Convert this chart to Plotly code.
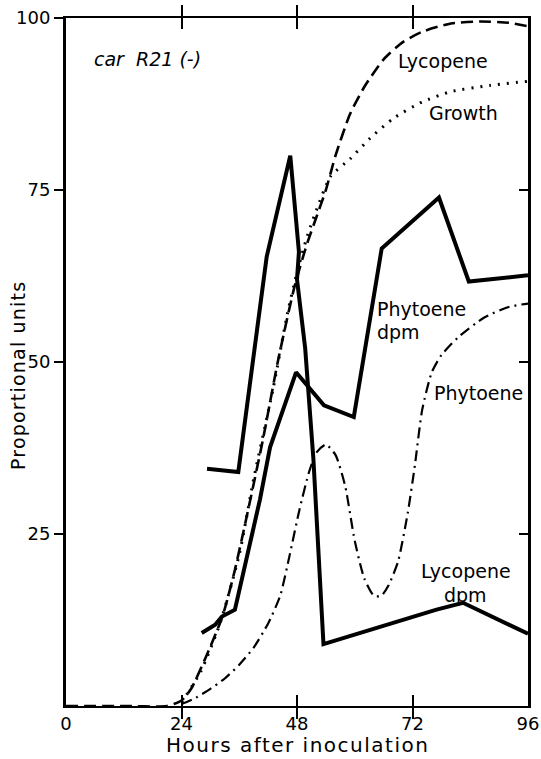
import plotly.graph_objects as go

# ---- data ----
lyc_h = [0, 12, 21, 24, 26, 29, 32.5, 35, 38, 41, 44, 47.5, 50, 52, 54, 56, 59, 62, 66, 70, 74, 80, 86, 92, 96]
lyc_v = [0, 0, 0, 0.8, 2.5, 7, 13, 19.5, 29, 39, 50, 61, 67, 71, 75, 80, 86, 90, 94, 96.5, 98, 99.2, 99.5, 99.3, 98.8]

gro_h = [24, 28, 32, 36, 39, 43, 46, 48, 50, 52, 55, 59, 63, 68, 74, 80, 88, 96]
gro_v = [0.5, 5, 12, 22, 33, 46, 57, 63, 68, 72, 77, 79.5, 82.4, 85.4, 87.8, 89.3, 90.2, 90.8]

phy_h = [24, 27, 30, 33, 36, 39, 42, 44.5, 46.5, 48.5, 50.5, 52, 54, 56, 58, 60, 62, 64, 65.5, 67, 69, 71, 72.5, 74, 76, 78, 81.5, 87, 92, 96]
phy_v = [0.3, 1.2, 2.5, 4, 6, 8.5, 12, 16, 22, 28.5, 34, 36.8, 38, 36.5, 32, 24, 18.5, 16, 16, 17.5, 21, 28, 35, 43, 48.5, 51, 53.6, 56.5, 58, 58.5]

pdpm_h = [28.2, 31, 32.4, 35.1, 40.3, 42.4, 47.8, 53.6, 59.8, 65.6, 77.5, 83.7, 96]
pdpm_v = [10.6, 11.8, 13, 14, 30, 37.6, 48.5, 43.7, 42, 66.5, 73.9, 61.7, 62.6]

ldpm_h = [29.3, 35.8, 41.7, 46.6, 48.4, 48.0, 49.7, 51.4, 53.5, 65, 77, 82.5, 96]
ldpm_v = [34.5, 34.0, 65.3, 80.0, 66.0, 62.0, 52.0, 36.0, 9.0, 11.5, 14, 15, 10.5]

x_ticks = [0, 24, 48, 72, 96]
y_ticks = [25, 50, 75, 100]

FONT = "DejaVu Sans"

fig = go.Figure()
fig.add_trace(go.Scatter(x=lyc_h, y=lyc_v, mode="lines", line=dict(color="black", width=2.6, dash="12px,6px", shape="spline", smoothing=0.6)))
fig.add_trace(go.Scatter(x=gro_h, y=gro_v, mode="lines", line=dict(color="black", width=3, dash="2px,7px", shape="spline", smoothing=0.6)))
fig.add_trace(go.Scatter(x=phy_h, y=phy_v, mode="lines", line=dict(color="black", width=2.2, dash="11px,5px,2px,5px", shape="spline", smoothing=0.6)))
fig.add_trace(go.Scatter(x=pdpm_h, y=pdpm_v, mode="lines", line=dict(color="black", width=4)))
fig.add_trace(go.Scatter(x=ldpm_h, y=ldpm_v, mode="lines", line=dict(color="black", width=4)))
# invisible trace to activate right-side axis ticks
fig.add_trace(go.Scatter(x=[0], y=[0], yaxis="y2", mode="markers", marker=dict(opacity=0), hoverinfo="skip"))

def ann(x, y, text, xanchor="center", size=19, italic=False):
    fig.add_annotation(x=x, y=y, xref="x", yref="y", text=text, showarrow=False,
                       xanchor=xanchor, yanchor="middle",
                       font=dict(family=FONT, size=size, color="black", style="italic" if italic else "normal"))

ann(5.4, 94.0, "car  R21 (-)", xanchor="left", size=19, italic=True)
ann(78.4, 93.8, "Lycopene")
ann(82.7, 86.2, "Growth")
ann(64.3, 57.7, "Phytoene", xanchor="left")
ann(64.3, 54.3, "dpm", xanchor="left")
ann(85.8, 45.5, "Phytoene")
ann(83.1, 19.6, "Lycopene")
ann(83.1, 16.1, "dpm")

# axis titles as annotations for precise placement
fig.add_annotation(x=0.5, y=0, xref="paper", yref="paper", yshift=-39, showarrow=False,
                   xanchor="center", yanchor="middle",
                   text='<span style="letter-spacing:1.5px">Hours after inoculation</span>',
                   font=dict(family=FONT, size=20, color="black"))
fig.add_annotation(x=0, y=0.5, xref="paper", yref="paper", xshift=-48, yshift=-14, showarrow=False,
                   xanchor="center", yanchor="middle", textangle=-90,
                   text='<span style="letter-spacing:1.2px">Proportional units</span>',
                   font=dict(family=FONT, size=19, color="black"))

fig.update_layout(
    width=541, height=759,
    margin=dict(l=66, r=13, t=18, b=53),
    paper_bgcolor="white", plot_bgcolor="white",
    showlegend=False,
    font=dict(family=FONT, color="black"),
    xaxis=dict(range=[0, 96], tickvals=x_ticks, ticktext=[str(v) for v in x_ticks],
               automargin=False, ticklabeloverflow="allow",
               showgrid=False, zeroline=False, showline=True, linecolor="black", linewidth=2,
               mirror="allticks", ticks="inside", ticklen=11, tickwidth=2, tickcolor="black",
               tickfont=dict(size=18, family=FONT)),
    yaxis=dict(range=[0, 100], tickvals=y_ticks, ticktext=[str(v) for v in y_ticks],
               automargin=False, ticklabeloverflow="allow",
               showgrid=False, zeroline=False, showline=True, linecolor="black", linewidth=3,
               mirror=True, ticks="outside", ticklen=9, tickwidth=2, tickcolor="black",
               tickfont=dict(size=18, family=FONT)),
    yaxis2=dict(range=[0, 100], overlaying="y", side="right", tickvals=[25, 50, 75],
                automargin=False,
                showticklabels=False, ticks="inside", ticklen=9, tickwidth=2, tickcolor="black",
                showgrid=False, zeroline=False, showline=False),
)
# remove the browser's default page margin so the figure fills the window exactly
fig.write_html("out.html", config={"displayModeBar": False},
               post_script="document.body.style.margin='0px';document.body.style.overflow='hidden';")
